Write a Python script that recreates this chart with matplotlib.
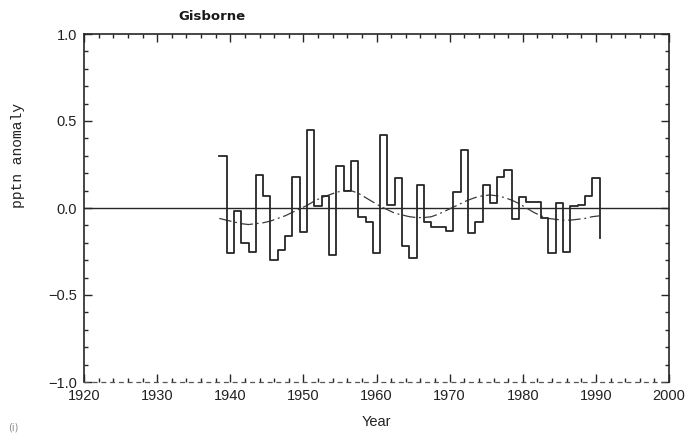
import matplotlib
matplotlib.use("Agg")
import matplotlib.pyplot as plt
import numpy as np
from matplotlib.ticker import MultipleLocator

# ---- data ----
years = list(range(1938, 1991))
anomaly = [0.30, -0.26, -0.02, -0.20, -0.25, 0.19, 0.07, -0.30, -0.24, -0.16,
           0.18, -0.14, 0.45, 0.01, 0.07, -0.27, 0.24, 0.10, 0.27, -0.05,
           -0.08, -0.26, 0.42, 0.02, 0.17, -0.22, -0.29, 0.13, -0.08, -0.11,
           -0.11, -0.13, 0.09, 0.335, -0.145, -0.08, 0.13, 0.03, 0.18, 0.22,
           -0.065, 0.065, 0.035, 0.035, -0.06, -0.26, 0.03, -0.25, 0.01, 0.02,
           0.07, 0.17, -0.17]
smooth = [-0.06, -0.07, -0.08, -0.09, -0.095, -0.09, -0.085, -0.075, -0.06, -0.045,
          -0.025, -0.005, 0.015, 0.04, 0.06, 0.075, 0.09, 0.10, 0.10, 0.085,
          0.06, 0.035, 0.01, -0.01, -0.03, -0.04, -0.05, -0.055, -0.055, -0.05,
          -0.035, -0.015, 0.005, 0.025, 0.045, 0.06, 0.07, 0.075, 0.07, 0.06,
          0.045, 0.025, 0.0, -0.025, -0.045, -0.06, -0.065, -0.07, -0.07, -0.065,
          -0.06, -0.05, -0.045]
x_ticks = [1920, 1930, 1940, 1950, 1960, 1970, 1980, 1990, 2000]
y_ticks = [-1.0, -0.5, 0.0, 0.5, 1.0]
y_tick_labels = ["\u22121.0", "\u22120.5", "0.0", "0.5", "1.0"]
title = "Gisborne"
x_label = "Year"
y_label = "pptn anomaly"

W, H = 696, 434
fig = plt.figure(figsize=(W / 100, H / 100), dpi=100)
L, R, T, B = 84, 669, 34, 382
ax = fig.add_axes([L / W, 1 - B / H, (R - L) / W, (B - T) / H])

ink = "#262626"
x = np.array(years) + 0.5
ax.axhline(0, color=ink, lw=1.0, zorder=1)
ax.step(x, anomaly, where="post", color=ink, lw=1.3, zorder=3)
ax.plot(x, smooth, color="#3a3a3a", lw=0.9, linestyle=(0, (10, 3, 1.5, 3)), zorder=2)

ax.set_xlim(1920, 2000)
ax.set_ylim(-1, 1)
ax.set_xticks(x_ticks)
ax.set_yticks(y_ticks)
ax.set_yticklabels(y_tick_labels)
ax.xaxis.set_minor_locator(MultipleLocator(2))
ax.yaxis.set_minor_locator(MultipleLocator(0.1))
ax.tick_params(which="both", direction="in", top=True, right=True, colors=ink,
               labelcolor="#222222")
ax.tick_params(which="major", length=6, width=1.0, labelsize=10.5, pad=5)
ax.tick_params(which="minor", length=3, width=1.0)
for lab in ax.get_xticklabels() + ax.get_yticklabels():
    lab.set_family("Liberation Sans")

for s in ["left", "right", "top"]:
    ax.spines[s].set_color(ink)
    ax.spines[s].set_linewidth(1.2)
ax.spines["bottom"].set_color("#555555")
ax.spines["bottom"].set_linewidth(0.9)
ax.spines["bottom"].set_linestyle((0, (3, 4)))

ax.set_xlabel(x_label, fontsize=10.5, family="Liberation Sans", color="#222222", labelpad=9)
fig.text(18 / W, 1 - 155 / H, y_label, rotation=90, ha="center", va="center",
         fontsize=10.5, family="Liberation Mono", color="#222222")
fig.text(212 / W, 1 - 17 / H, title, ha="center", va="center", fontsize=9.5,
         fontweight="bold", family="DejaVu Sans", color="#1a1a1a")
fig.text(8 / W, 1 - 428 / H, "(i)", ha="left", va="center", fontsize=7, color="#888888")

fig.savefig("out.png", dpi=100)
